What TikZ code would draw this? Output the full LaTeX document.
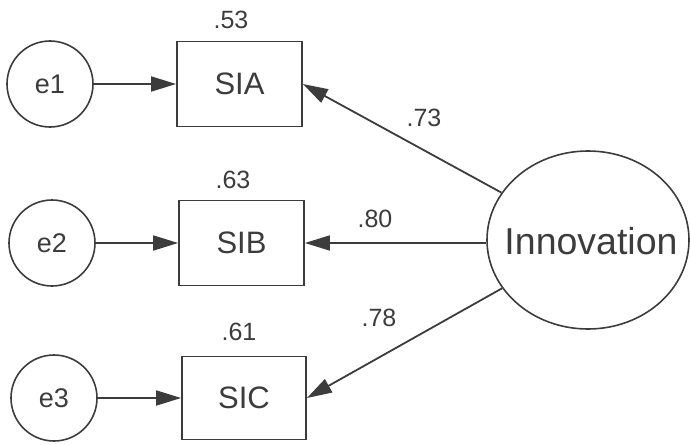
\documentclass[tikz,border=0pt]{standalone}
\usepackage{fontspec}
\setmainfont{Liberation Sans}
\usetikzlibrary{arrows.meta,shapes.geometric}
\definecolor{ink}{HTML}{3C3C3C}
\begin{document}
\begin{tikzpicture}[x=1pt,y=-1pt,
  every node/.style={text=ink},
  errc/.style={draw=ink,line width=1.6pt,circle,minimum size=86pt,inner sep=0pt,font=\fontsize{27}{27}\selectfont},
  obs/.style={draw=ink,line width=1.8pt,rectangle,minimum width=125pt,minimum height=85pt,inner sep=0pt,font=\fontsize{31}{31}\selectfont},
  lat/.style={draw=ink,line width=1.6pt,ellipse,minimum width=202pt,minimum height=178pt,inner sep=0pt},
  lattext/.style={inner sep=0pt,font=\fontsize{37.5}{37.5}\selectfont},
  num/.style={font=\fontsize{25}{25}\selectfont,inner sep=0pt},
  arr/.style={draw=ink,line width=1.8pt,-{Triangle[length=25pt,width=15pt]}}
]
\useasboundingbox (0,0) rectangle (690,444);
\node[errc] (e1) at (50,84) {e1};
\node[errc] (e2) at (52,243) {e2};
\node[errc] (e3) at (54,398) {e3};
\node[obs] (sia) at (239.5,84) {SIA};
\node[obs] (sib) at (241.5,243) {SIB};
\node[obs,minimum width=124pt,minimum height=83pt] (sic) at (244,398) {SIC};
\node[lat] (inn) at (588,240) {};
\node[lattext] (innt) at (591,241) {Innovation};
\node[num] (r1) at (231,20) {.53};
\node[num] (r2) at (233,180) {.63};
\node[num] (r3) at (239,332) {.61};
\node[num] (l1) at (424,118) {.73};
\node[num] (l2) at (375,219) {.80};
\node[num] (l3) at (379,318) {.78};
\draw[arr] (e1) -- (sia);
\draw[arr] (e2) -- (sib);
\draw[arr] (e3) -- (sic);
\draw[arr] (inn) -- (sia.east);
\draw[arr] (inn.west |- sib.east) -- (sib.east);
\draw[arr] (inn) -- (sic.east);
\end{tikzpicture}
\end{document}
